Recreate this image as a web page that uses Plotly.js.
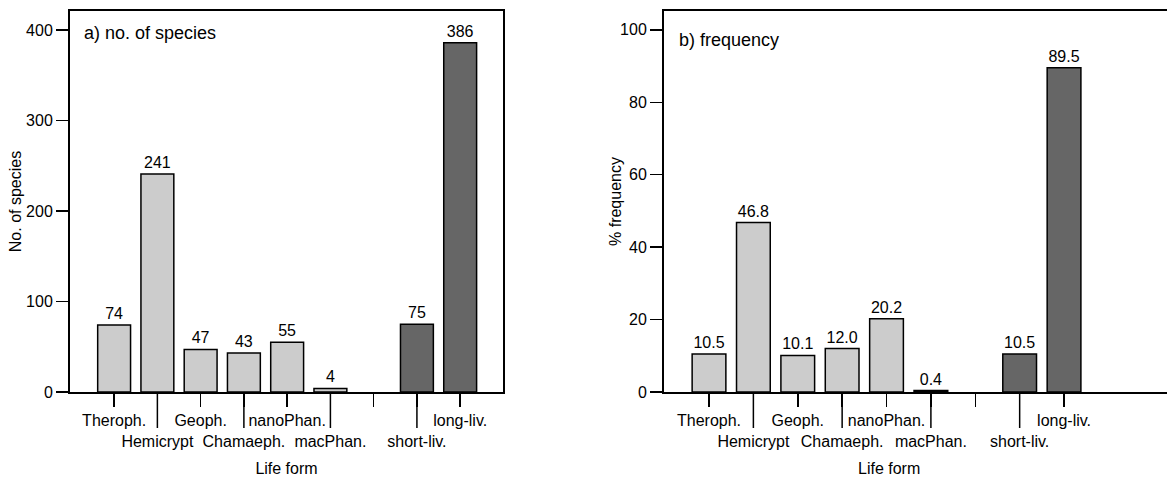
<!DOCTYPE html>
<html>
<head>
<meta charset="utf-8">
<script src="https://cdn.plot.ly/plotly-3.0.1.min.js"></script>
<style>html,body{margin:0;padding:0;background:#fff;}#chart{width:1167px;height:477px;}</style>
</head>
<body>
<div id="chart"></div>
<script>
const lifeForms = ["Theroph.", "Hemicrypt", "Geoph.", "Chamaeph.", "nanoPhan.", "macPhan."];
const longevity = ["short-liv.", "long-liv."];
const tickLabels = ["Theroph.", "Hemicrypt", "Geoph.", "Chamaeph.", "nanoPhan.", "macPhan.", "", "short-liv.", "long-liv."];
const lifeFormSpecies = [74, 241, 47, 43, 55, 4];
const longevitySpecies = [75, 386];
const lifeFormFreq = [10.5, 46.8, 10.1, 12.0, 20.2, 0.4];
const longevityFreq = [10.5, 89.5];
const speciesTicks = [0, 100, 200, 300, 400];
const freqTicks = [0, 20, 40, 60, 80, 100];

const FONT = "Liberation Sans, Arial, Helvetica, sans-serif";
const W = 1167, H = 477;
const PLOT_H = 381;
const pos = names => names.map(n => tickLabels.indexOf(n));
const allIdx = tickLabels.map((_, i) => i);
const oddIdx = allIdx.filter(i => i % 2 === 1);
const tickText = tickLabels.map((t, i) => (i % 2 === 1 ? "<br>" + t : t));

function bar(x, y, color, xa, ya, fmt) {
  return {
    type: "bar", x: x, y: y, xaxis: xa, yaxis: ya,
    width: 0.76,
    marker: {color: color, line: {color: "#000", width: 1.5}},
    text: y.map(v => fmt(v)), textposition: "outside",
    textfont: {family: FONT, size: 16, color: "#000"},
    cliponaxis: false, hoverinfo: "x+y", showlegend: false
  };
}

const data = [
  bar(pos(lifeForms), lifeFormSpecies, "#cccccc", "x", "y", v => String(v)),
  bar(pos(longevity), longevitySpecies, "#666666", "x", "y", v => String(v)),
  bar(pos(lifeForms), lifeFormFreq, "#cccccc", "x2", "y2", v => v.toFixed(1)),
  bar(pos(longevity), longevityFreq, "#666666", "x2", "y2", v => v.toFixed(1))
];

const baseX = {
  showline: true, linecolor: "#000", linewidth: 2, mirror: true,
  ticks: "outside", ticklen: 13, tickwidth: 1.5, tickcolor: "#000",
  tickmode: "array", tickvals: allIdx, ticktext: tickText, tickangle: 0,
  tickfont: {family: FONT, size: 16, color: "#000"},
  showgrid: false, zeroline: false, fixedrange: true
};
const baseY = {
  showline: true, linecolor: "#000", linewidth: 2,
  ticks: "outside", ticklen: 12, tickwidth: 1.5, tickcolor: "#000",
  tickfont: {family: FONT, size: 16, color: "#000"},
  showgrid: false, zeroline: false, fixedrange: true
};

const d1 = [70 / W, 503 / W];
const d2 = [664 / W, 1];
const r1 = [-1.02, 8.99];
const r2 = [-1.014, 10.32];

// longer tick marks for the categories whose labels sit on the second row
const longTickShapes = [];
["x", "x2"].forEach(xr => {
  oddIdx.forEach(i => {
    longTickShapes.push({type: "line", xref: xr, yref: "paper", x0: i, x1: i,
      y0: 0, y1: -36 / PLOT_H, line: {color: "#000", width: 1.5}, layer: "above"});
  });
});

const layout = {
  width: W, height: H,
  margin: {l: 0, r: 0, t: 11, b: 85},
  paper_bgcolor: "#fff", plot_bgcolor: "#fff",
  font: {family: FONT, size: 16, color: "#000"},
  bargap: 0,
  xaxis: Object.assign({}, baseX, {domain: d1, range: r1, anchor: "y",
    title: {text: "Life form", font: {family: FONT, size: 16, color: "#000"}, standoff: 14}}),
  yaxis: Object.assign({}, baseY, {domain: [0, 1], range: [0, 421], anchor: "x", mirror: true,
    tickvals: speciesTicks,
    title: {text: "No. of species", font: {family: FONT, size: 16, color: "#000"}, standoff: 0}}),
  xaxis2: Object.assign({}, baseX, {domain: d2, range: r2, anchor: "y2"}),
  yaxis2: Object.assign({}, baseY, {domain: [0, 1], range: [0, 105.2], anchor: "x2", mirror: false,
    tickvals: freqTicks,
    title: {text: "% frequency", font: {family: FONT, size: 16, color: "#000"}}}),
  shapes: longTickShapes,
  annotations: [
    {text: "a) no. of species", xref: "paper", yref: "paper", x: 82 / W, y: (392 - 33) / PLOT_H,
     xanchor: "left", yanchor: "middle", showarrow: false, font: {family: FONT, size: 18, color: "#000"}},
    {text: "b) frequency", xref: "paper", yref: "paper", x: 677 / W, y: (392 - 40) / PLOT_H,
     xanchor: "left", yanchor: "middle", showarrow: false, font: {family: FONT, size: 18, color: "#000"}},
    {text: "Life form", xref: "paper", yref: "paper", x: 889 / W, y: (392 - 468) / PLOT_H,
     xanchor: "center", yanchor: "middle", showarrow: false, font: {family: FONT, size: 16, color: "#000"}}
  ]
};

Plotly.newPlot("chart", data, layout, {displayModeBar: false, staticPlot: true});
</script>
</body>
</html>
